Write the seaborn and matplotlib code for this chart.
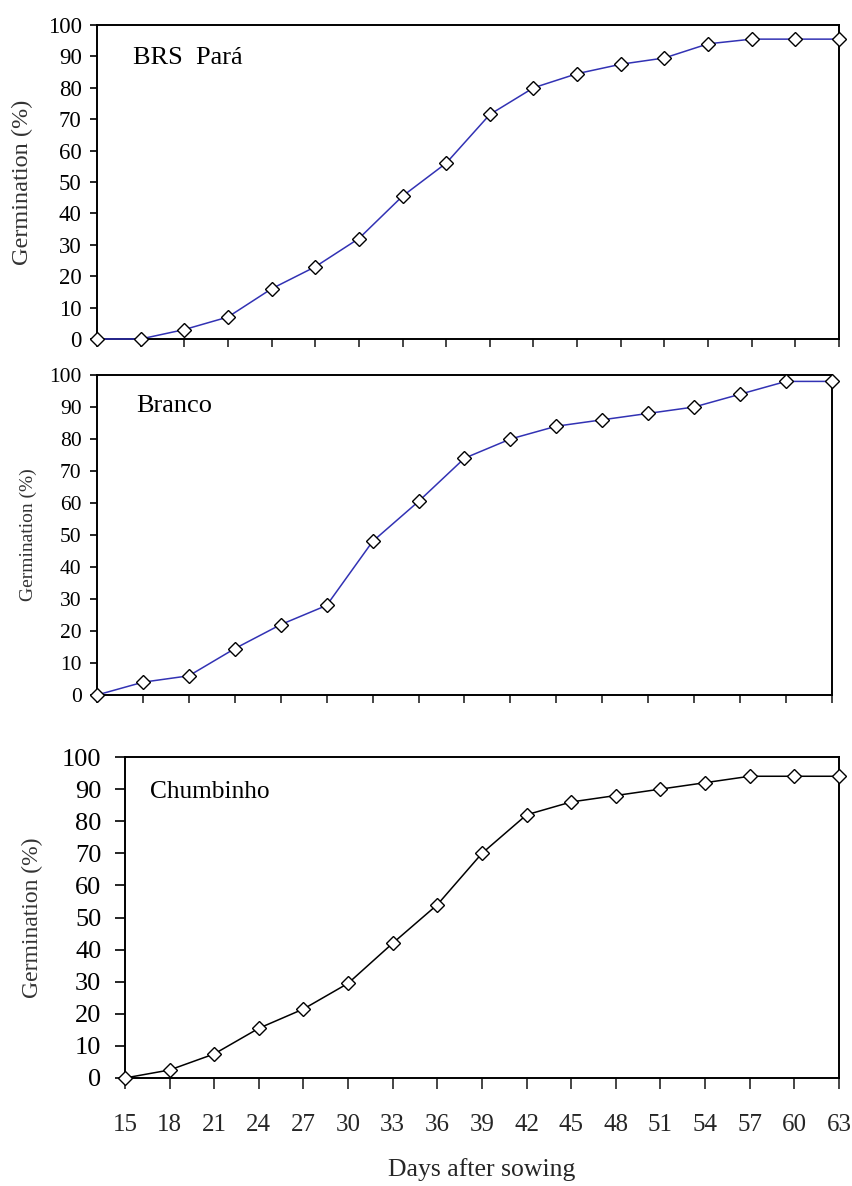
import matplotlib
matplotlib.use("Agg")
import matplotlib.pyplot as plt
import seaborn as sns
import pandas as pd

# ---- data ----
brs_eval = list(range(1, 19))  # evaluation number (18 evaluations, unlabeled axis)
brs_germ = [0, 0, 3, 7, 16, 23, 32, 45.5, 56, 71.5, 80, 84.5, 87.5, 89.5, 94, 95.5, 95.5, 95.5]

branco_eval = list(range(1, 18))  # 17 evaluations, unlabeled axis
branco_germ = [0, 4, 6, 14.5, 22, 28, 48, 60.5, 74, 80, 84, 86, 88, 90, 94, 98, 98]

days = [15, 18, 21, 24, 27, 30, 33, 36, 39, 42, 45, 48, 51, 54, 57, 60, 63]
chumbinho_germ = [0, 2.5, 7.5, 15.5, 21.5, 29.5, 42, 54, 70, 82, 86, 88, 90, 92, 94, 94, 94]

y_ticks = [0, 10, 20, 30, 40, 50, 60, 70, 80, 90, 100]
panel_titles = ["BRS  Pará", "Branco", "Chumbinho"]
y_label = "Germination (%)"
x_label = "Days after sowing"

sns.set_style("white")
plt.rcParams['font.family'] = ['Liberation Serif', 'DejaVu Serif']

W, H = 853, 1186
fig = plt.figure(figsize=(W / 100, H / 100), dpi=100)

def ax_at(l, r, t, b):
    return fig.add_axes([l / W, 1 - b / H, (r - l) / W, (b - t) / H])

ax1 = ax_at(97, 839, 25, 339)
ax2 = ax_at(97, 832, 375, 695)
ax3 = ax_at(125, 839, 757, 1078)

blue = "#3232b4"
specs = [
    (ax1, brs_eval, brs_germ, blue, panel_titles[0], (0.048, 0.895), 16.5, 17.5, 19),
    (ax2, branco_eval, branco_germ, blue, panel_titles[1], (0.054, 0.903), 15.5, 14, 19),
    (ax3, days, chumbinho_germ, "black", panel_titles[2], (0.035, 0.89), 19, 17, 18.3),
]

for ax, x, y, col, title, pos, tfs, lfs, titfs in specs:
    df = pd.DataFrame({"x": x, "y": y})
    sns.lineplot(data=df, x="x", y="y", ax=ax, color=col, linewidth=1.1,
                 marker="D", markersize=7, markerfacecolor="white",
                 markeredgecolor="black", markeredgewidth=1.0, clip_on=False,
                 zorder=5)
    ax.set_xlim(x[0], x[-1])
    ax.set_ylim(0, 100)
    ax.set_yticks(y_ticks)
    ax.set_xticks(x)
    for s in ax.spines.values():
        s.set_color("black")
        s.set_linewidth(1.4)
    ax.tick_params(axis="y", direction="out", length=5, width=1.2, pad=6,
                   labelsize=tfs, colors="black", left=True)
    ax.tick_params(axis="x", direction="out", length=6, width=1.2,
                   bottom=True)
    ax.text(pos[0], pos[1], title, transform=ax.transAxes, fontsize=titfs,
            va="center", ha="left", color="black")
    ax.set_ylabel(y_label, fontsize=lfs, color="#333333")
    ax.set_xlabel("")

ax1.set_xticklabels([])
ax2.set_xticklabels([])
ax3.tick_params(axis="x", length=8, labelsize=18, pad=18)
ax3.tick_params(axis="y", length=7, pad=10)
ax3.set_xticklabels([str(d) for d in days])
ax3.set_xlabel(x_label, fontsize=18.5, labelpad=16)

ax1.yaxis.set_label_coords(-0.086, 0.5)
ax2.yaxis.set_label_coords(-0.082, 0.5)
ax3.yaxis.set_label_coords(-0.115, 0.5)

fig.savefig("out.png", dpi=100)
